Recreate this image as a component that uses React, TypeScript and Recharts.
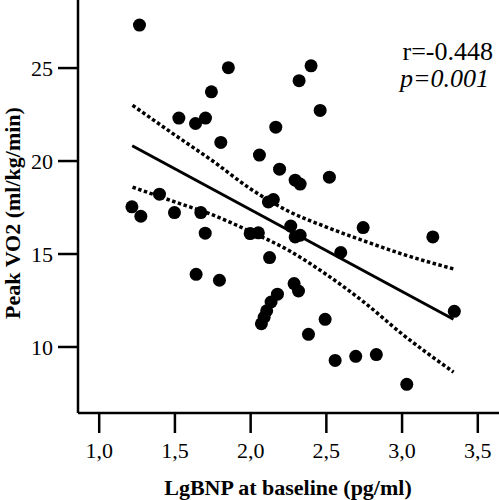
import { ScatterChart, Scatter, XAxis, YAxis, Label, Customized } from "recharts";

// LgBNP at baseline vs peak VO2, one point per patient
const lgBnp = [
  1.266, 1.853, 2.399, 2.32, 1.741, 2.459, 1.526, 1.636, 1.702, 2.166,
  1.803, 2.058, 2.191, 2.294, 2.327, 2.52, 1.398, 2.117, 2.15, 1.216,
  1.275, 1.497, 1.671, 1.7, 1.997, 2.051, 2.265, 2.294, 2.327, 2.743,
  3.203, 2.595, 2.125, 1.64, 1.794, 2.287, 2.316, 2.177, 2.135, 2.106,
  2.089, 2.071, 2.492, 2.382, 2.558, 2.694, 2.83, 3.031, 3.345,
];
const peakVo2 = [
  27.31, 25.02, 25.12, 24.32, 23.72, 22.72, 22.31, 22.02, 22.31, 21.82,
  21.0, 20.32, 19.56, 18.97, 18.76, 19.13, 18.22, 17.8, 17.93, 17.54,
  17.03, 17.23, 17.23, 16.12, 16.1, 16.14, 16.5, 15.92, 16.01, 16.42,
  15.92, 15.08, 14.81, 13.91, 13.59, 13.41, 13.01, 12.84, 12.42, 11.95,
  11.6, 11.25, 11.49, 10.68, 9.28, 9.5, 9.59, 7.99, 11.92,
];

// regression line and 95% CI
const fitX = [1.218, 3.339];
const fitY = [20.82, 11.49];
const ciX = [1.22, 1.5, 1.75, 2.0, 2.25, 2.5, 2.75, 3.0, 3.34];
const ciUpper = [23.0, 21.4, 20.0, 18.5, 17.3, 16.45, 15.7, 15.0, 14.2];
const ciLower = [18.6, 17.8, 17.1, 16.2, 15.2, 13.9, 12.4, 10.7, 8.65];

const xTicks = [1, 1.5, 2, 2.5, 3, 3.5];
const yTicks = [10, 15, 20, 25];

const points = lgBnp.map((x, i) => ({ x, y: peakVo2[i] }));
const fit = fitX.map((x, i) => ({ x, y: fitY[i] }));
const upper = ciX.map((x, i) => ({ x, y: ciUpper[i] }));
const lower = ciX.map((x, i) => ({ x, y: ciLower[i] }));

const font = "'Liberation Serif', 'Times New Roman', serif";
const noDot = () => <g />;

const Stats = () => (
  <g fontFamily={font} fontSize={26} fill="#000">
    <text x={493} y={60} textAnchor="end">r=-0.448</text>
    <text x={489} y={87} textAnchor="end" fontStyle="italic">p=0.001</text>
  </g>
);

export default function App() {
  return (
    <div style={{ position: "absolute", left: 0, top: 0, background: "#fff" }}>
      <ScatterChart
        width={499}
        height={500}
        margin={{ top: 0, right: 0, bottom: 0, left: 0 }}
      >
        <XAxis
          type="number"
          dataKey="x"
          domain={[0.86, 3.64]}
          ticks={xTicks}
          tickFormatter={(v: number) => v.toFixed(1).replace(".", ",")}
          height={87}
          tickSize={20}
          tickMargin={9}
          axisLine={{ stroke: "#000", strokeWidth: 2.5 }}
          tickLine={{ stroke: "#000", strokeWidth: 2.5 }}
          tick={{ fill: "#000", fontSize: 22, fontFamily: font }}
        >
          <Label
            content={() => (
              <text
                x={288}
                y={495}
                textAnchor="middle"
                fontFamily={font}
                fontWeight="bold"
                fontSize={22}
                fill="#000"
              >
                LgBNP at baseline (pg/ml)
              </text>
            )}
          />
        </XAxis>
        <YAxis
          type="number"
          dataKey="y"
          domain={[6.45, 28.66]}
          ticks={yTicks}
          width={78}
          tickSize={20}
          tickMargin={5}
          axisLine={{ stroke: "#000", strokeWidth: 2.5 }}
          tickLine={{ stroke: "#000", strokeWidth: 2.5 }}
          tick={{ fill: "#000", fontSize: 22, fontFamily: font }}
        >
          <Label
            content={() => (
              <text
                transform="translate(20,213) rotate(-90)"
                textAnchor="middle"
                fontFamily={font}
                fontWeight="bold"
                fontSize={22}
                fill="#000"
              >
                Peak VO2 (ml/kg/min)
              </text>
            )}
          />
        </YAxis>
        <Scatter
          data={upper}
          shape={noDot}
          line={{ stroke: "#000", strokeWidth: 3.5, strokeDasharray: "3.5 2.5" }}
          lineJointType="monotoneX"
          isAnimationActive={false}
        />
        <Scatter
          data={lower}
          shape={noDot}
          line={{ stroke: "#000", strokeWidth: 3.5, strokeDasharray: "3.5 2.5" }}
          lineJointType="monotoneX"
          isAnimationActive={false}
        />
        <Scatter
          data={fit}
          shape={noDot}
          line={{ stroke: "#000", strokeWidth: 3 }}
          isAnimationActive={false}
        />
        <Scatter data={points} fill="#000" isAnimationActive={false}
          shape={(p: any) => <circle cx={p.cx} cy={p.cy} r={6.5} fill="#000" />}
        />
        <Customized component={Stats} />
      </ScatterChart>
    </div>
  );
}
